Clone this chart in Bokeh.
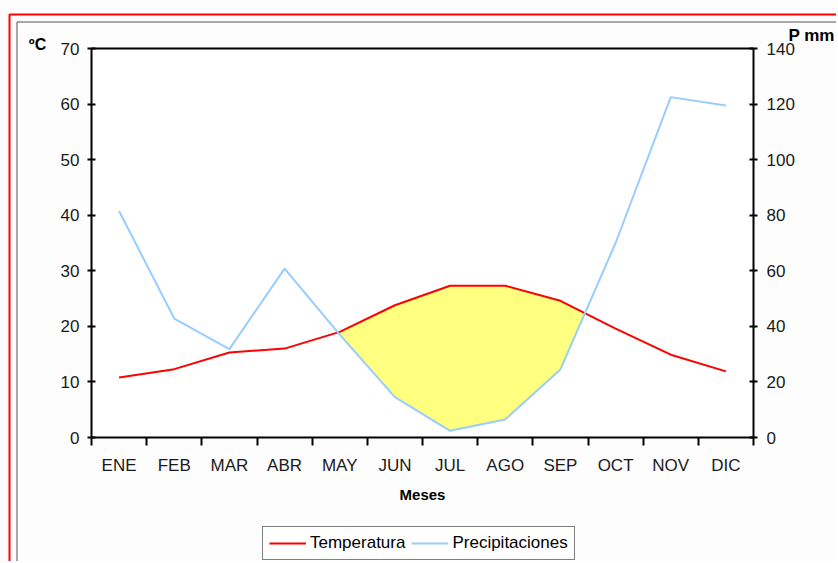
import numpy as np
from bokeh.plotting import figure
from bokeh.models import Range1d, LinearAxis, FixedTicker, Label, Legend, LegendItem, BoxAnnotation
from bokeh.embed import file_html
from bokeh.resources import INLINE

months = ["ENE", "FEB", "MAR", "ABR", "MAY", "JUN", "JUL", "AGO", "SEP", "OCT", "NOV", "DIC"]
temp = [10.8, 12.3, 15.3, 16.0, 19.0, 23.8, 27.3, 27.3, 24.6, 19.6, 14.9, 11.9]
precip = [81.5, 42.8, 31.8, 60.8, 37.0, 14.5, 2.4, 6.5, 24.5, 70.0, 122.5, 119.5]
temp_ticks = [0, 10, 20, 30, 40, 50, 60, 70]
precip_ticks = [0, 20, 40, 60, 80, 100, 120, 140]

FONT = "Liberation Sans"
W, H = 836, 561
# placement of the plot area on the canvas (pixels)
PL, PR, PT, PB = 91, 753, 48, 437
NX = len(months)
TMAX = temp_ticks[-1]
PMAX = precip_ticks[-1]
sx = (PR - PL) / NX
sy = (PB - PT) / TMAX


def px2x(px):
    return (px - PL) / sx


def py2y(py):
    return (PB - py) / sy


xs = np.arange(NX) + 0.5
t = np.array(temp, dtype=float)
q = np.array(precip, dtype=float) * TMAX / PMAX  # precipitation on temperature scale

# arid period: temperature above P/2 -> breakpoints incl. crossings
fx, ft, fq = [], [], []
for i in range(NX):
    fx.append(xs[i]); ft.append(t[i]); fq.append(q[i])
    if i < NX - 1:
        d0 = t[i] - q[i]
        d1 = t[i + 1] - q[i + 1]
        if d0 * d1 < 0:
            f = d0 / (d0 - d1)
            fx.append(xs[i] + f)
            ft.append(t[i] + f * (t[i + 1] - t[i]))
            fq.append(q[i] + f * (q[i + 1] - q[i]))
fx = np.array(fx); ft = np.array(ft); fq = np.array(fq)
low = np.minimum(ft, fq)

p = figure(width=W, height=H, output_backend="svg", toolbar_location=None,
           x_range=Range1d(px2x(0), px2x(W)), y_range=Range1d(py2y(H), py2y(0)),
           min_border=0, min_border_left=0, min_border_right=0,
           min_border_top=0, min_border_bottom=0)
ratio = PMAX / TMAX
p.extra_y_ranges = {"p": Range1d(py2y(H) * ratio, py2y(0) * ratio)}
p.background_fill_color = "#fdfdfd"
p.border_fill_color = "#fdfdfd"
p.outline_line_color = None
p.xgrid.visible = False
p.ygrid.visible = False

# plot area background
p.add_layout(BoxAnnotation(left=0, right=NX, bottom=0, top=TMAX, fill_color="white",
                           fill_alpha=1, line_color=None, level="underlay"))

p.varea(x=fx, y1=ft, y2=low, fill_color="#ffff80", fill_alpha=1.0)
r_t = p.line(xs, temp, line_color="#ff0000", line_width=2)
r_p = p.line(xs, precip, line_color="#99ccff", line_width=2, y_range_name="p")
# top edge of plot area
p.line([0, NX], [TMAX, TMAX], line_color="black", line_width=2)

TICK_COLOR = "#1a1a1a"
TICK_SIZE = "17px"

# x axis
xa = p.xaxis[0]
xa.fixed_location = 0
xa.bounds = (0, NX)
xa.ticker = FixedTicker(ticks=list(xs), minor_ticks=list(range(NX + 1)))
xa.major_label_overrides = {float(x): m for x, m in zip(xs, months)}
xa.major_tick_line_color = None
xa.major_tick_in = 0
xa.major_tick_out = 0
xa.minor_tick_line_color = "black"
xa.minor_tick_line_width = 2
xa.minor_tick_in = 0
xa.minor_tick_out = 8
xa.axis_line_width = 2
xa.axis_line_color = "black"
xa.major_label_text_font = FONT
xa.major_label_text_font_size = TICK_SIZE
xa.major_label_text_color = TICK_COLOR
xa.major_label_standoff = 10
xa.axis_label = "Meses"
xa.axis_label_text_font = FONT
xa.axis_label_text_font_style = "bold"
xa.axis_label_text_font_size = "15px"
xa.axis_label_text_color = "black"
xa.axis_label_standoff = 8

# left axis
ya = p.yaxis[0]
ya.fixed_location = 0
ya.bounds = (0, TMAX)
ya.ticker = FixedTicker(ticks=temp_ticks)
ya.major_tick_in = 4
ya.major_tick_out = 4
ya.major_tick_line_width = 2
ya.minor_tick_line_color = None
ya.axis_line_width = 2
ya.major_label_text_font = FONT
ya.major_label_text_font_size = TICK_SIZE
ya.major_label_text_color = TICK_COLOR
ya.major_label_standoff = 8

# right axis
ra = LinearAxis(y_range_name="p", ticker=FixedTicker(ticks=precip_ticks),
                fixed_location=NX, bounds=(0, PMAX))
ra.major_tick_in = 4
ra.major_tick_out = 4
ra.major_tick_line_width = 2
ra.minor_tick_line_color = None
ra.axis_line_width = 2
ra.major_label_text_font = FONT
ra.major_label_text_font_size = TICK_SIZE
ra.major_label_text_color = TICK_COLOR
ra.major_label_standoff = 9
p.add_layout(ra, "right")

# unit labels
p.add_layout(Label(x=px2x(37), y=py2y(44), text="ºC", text_font=FONT, text_font_style="bold",
                   text_font_size="16px", text_align="center", text_baseline="middle",
                   text_color="black"))
p.add_layout(Label(x=px2x(788), y=py2y(35), text="P mm", text_font=FONT, text_font_style="bold",
                   text_font_size="17px", text_align="left", text_baseline="middle",
                   text_color="black"))

# chart borders
p.add_layout(BoxAnnotation(left=px2x(9), right=px2x(W + 50), top=py2y(14), bottom=py2y(H + 50),
                           fill_alpha=0, line_color="#ff0000", line_alpha=1.0, line_width=2))
p.add_layout(BoxAnnotation(left=px2x(16.5), right=px2x(W + 50), top=py2y(21.5), bottom=py2y(H + 50),
                           fill_alpha=0, line_color="#555555", line_alpha=1.0, line_width=1))

legend = Legend(items=[LegendItem(label="Temperatura", renderers=[r_t]),
                       LegendItem(label="Precipitaciones", renderers=[r_p])],
                orientation="horizontal", location=(262, H - 560))
legend.label_text_font = FONT
legend.label_text_font_size = "17px"
legend.label_text_color = "black"
legend.glyph_width = 37
legend.glyph_height = 18
legend.label_standoff = 4
legend.spacing = 6
legend.padding = 6
legend.margin = 0
legend.border_line_color = "black"
legend.border_line_width = 1
legend.background_fill_color = "white"
legend.background_fill_alpha = 1
p.add_layout(legend, "center")

open("out.html", "w").write(file_html(p, INLINE))
